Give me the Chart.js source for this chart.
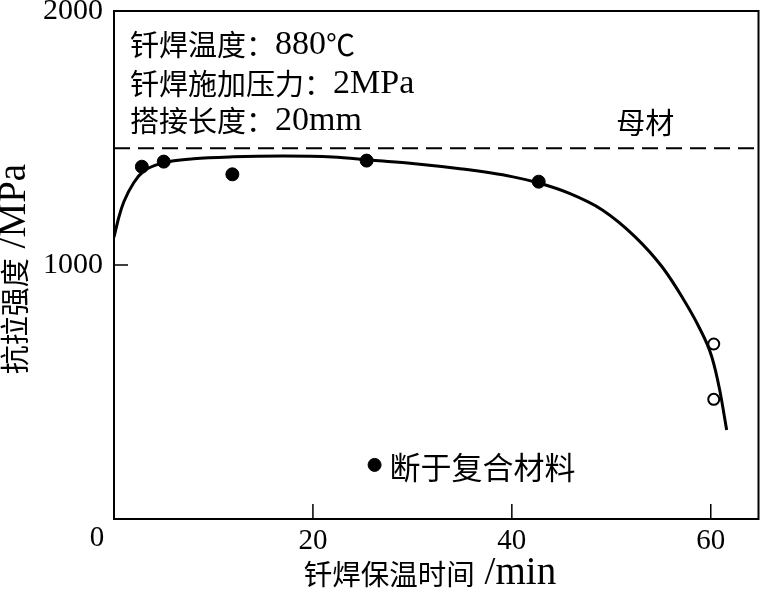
<!DOCTYPE html>
<html>
<head>
<meta charset="utf-8">
<script src="https://cdn.jsdelivr.net/npm/chart.js@4.4.1/dist/chart.umd.min.js"></script>
<style>
  body { margin: 0; background: #fff; }
  #wrap { width: 766px; height: 595px; position: relative; }
</style>
</head>
<body>
<div id="wrap"><canvas id="chart"></canvas></div>
<script>
// fitted curve
const curveX = [0, 0.5, 1, 2, 3, 5, 8, 12, 17, 22, 26, 30, 35, 40, 42.8, 45.8, 49.1, 52.4, 55.1, 57.1, 58.8, 60.1, 60.9, 61.6];
const curveY = [1110, 1190, 1250, 1325, 1370, 1402, 1418, 1426, 1429, 1425, 1412, 1400, 1378, 1348, 1322, 1282, 1217, 1111, 993, 875, 757, 639, 508, 350];

// filled dots: broken in the composite
const solidX = [2.8, 5.0, 11.9, 25.4, 42.7];
const solidY = [1387, 1407, 1357, 1411, 1328];

// open circles
const openX = [60.3, 60.3];
const openY = [689, 471];

// base metal strength
const baseMetal = 1460;

const xTicks = [20, 40, 60];
const yTicks = [1000, 2000];

const legendX = 26.2, legendY = 213;

const serif = "'Liberation Serif', 'Noto Sans CJK SC', serif";
const cjk = "'Noto Sans CJK SC', sans-serif";

function pts(xs, ys) {
    return xs.map((x, i) => ({x: x, y: ys[i]}));
}

// draw text with CJK and latin runs at their own sizes
function mixed(ctx, text, x, y, cjkSize, latSize, align) {
    let re = /[\u2100-\u214f\u3000-\u9fff\uff00-\uffef]/;
    let runs = text.match(/[\u2100-\u214f\u3000-\u9fff\uff00-\uffef]+|[^\u2100-\u214f\u3000-\u9fff\uff00-\uffef]+/g);
    let fonts = runs.map(r => re.test(r) ? cjkSize + 'px ' + cjk : latSize + 'px ' + serif);
    let total = 0;
    runs.forEach((r, i) => { ctx.font = fonts[i]; total += ctx.measureText(r).width; });
    let px = align === 'center' ? x - total / 2 : x;
    ctx.textAlign = 'left';
    ctx.textBaseline = 'middle';
    runs.forEach((r, i) => {
        ctx.font = fonts[i];
        ctx.fillText(r, px, y);
        px += ctx.measureText(r).width;
    });
}

let decor = {
    id: 'decor',
    afterDraw: (chart) => {
        let ctx = chart.ctx;
        let a = chart.chartArea;
        let xs = chart.scales.x, ys = chart.scales.y;
        ctx.save();
        ctx.strokeStyle = '#000';
        ctx.lineWidth = 2;
        ctx.strokeRect(a.left, a.top, a.right - a.left, a.bottom - a.top);

        // inward ticks
        ctx.beginPath();
        xTicks.forEach(v => {
            let px = xs.getPixelForValue(v);
            ctx.moveTo(px, a.bottom);
            ctx.lineTo(px, a.bottom - 15);
        });
        ctx.moveTo(a.left, ys.getPixelForValue(1000));
        ctx.lineTo(a.left + 14, ys.getPixelForValue(1000));
        ctx.lineWidth = 1.5;
        ctx.stroke();

        ctx.fillStyle = '#000';
        mixed(ctx, '钎焊温度：880℃', a.left + 16, 45, 29, 34, 'left');
        mixed(ctx, '钎焊施加压力：2MPa', a.left + 16, 84, 29, 34, 'left');
        mixed(ctx, '搭接长度：20mm', a.left + 16, 121, 29, 34, 'left');

        mixed(ctx, '母材', xs.getPixelForValue(50.5), ys.getPixelForValue(1560), 29, 29, 'left');
        mixed(ctx, '断于复合材料', xs.getPixelForValue(legendX) + 15, ys.getPixelForValue(legendY) + 2, 31, 31, 'left');

        ctx.font = '29px ' + serif;
        ctx.textAlign = 'center';
        ctx.fillText('0', xs.getPixelForValue(0) - 17, 538);

        mixed(ctx, '钎焊保温时间 /min', 430, 574, 28.5, 39, 'center');
        ctx.translate(15, 269);
        ctx.rotate(-Math.PI / 2);
        mixed(ctx, '抗拉强度 /MPa', 0, 0, 29, 39, 'center');
        ctx.restore();
    }
};

let config = {
    type: 'scatter',
    data: {
        datasets: [{
            label: 'curve',
            data: pts(curveX, curveY),
            showLine: true,
            borderColor: '#000',
            borderWidth: 3,
            pointRadius: 0,
            cubicInterpolationMode: 'monotone',
        }, {
            label: 'base',
            data: [{x: 0, y: baseMetal}, {x: 64.8, y: baseMetal}],
            showLine: true,
            borderColor: '#000',
            borderWidth: 2,
            borderDash: [16, 8],
            pointRadius: 0,
        }, {
            label: 'solid',
            data: pts(solidX, solidY),
            pointRadius: 6.5,
            backgroundColor: '#000',
            borderColor: '#000',
        }, {
            label: 'open',
            data: pts(openX, openY),
            pointRadius: 5.5,
            borderWidth: 2,
            backgroundColor: '#fff',
            borderColor: '#000',
        }, {
            label: 'legend',
            data: [{x: legendX, y: legendY}],
            pointRadius: 6.5,
            backgroundColor: '#000',
            borderColor: '#000',
        }]
    },
    options: {
        responsive: true,
        maintainAspectRatio: false,
        animation: false,
        layout: {padding: {top: 11, right: 2, left: 0, bottom: 0}},
        plugins: {legend: {display: false}, tooltip: {enabled: false}},
        scales: {
            x: {
                type: 'linear',
                min: 0,
                max: 64.8,
                grid: {display: false, drawTicks: false},
                border: {display: false},
                afterBuildTicks: (s) => { s.ticks = xTicks.map(v => ({value: v})); },
                afterFit: (s) => { s.height = 76; s.paddingLeft = 0; s.paddingRight = 0; },
                ticks: {
                    padding: 5,
                    autoSkip: false,
                    color: '#000',
                    font: {family: serif, size: 29},
                    maxRotation: 0,
                    callback: (v) => String(v),
                },
            },
            y: {
                min: 0,
                max: 2000,
                grid: {display: false, drawTicks: false},
                border: {display: false},
                afterBuildTicks: (s) => { s.ticks = yTicks.map(v => ({value: v})); },
                afterFit: (s) => { s.width = 114; s.paddingTop = 0; s.paddingBottom = 0; },
                ticks: {
                    padding: 11,
                    autoSkip: false,
                    color: '#000',
                    font: {family: serif, size: 30},
                    callback: (v) => String(v),
                },
            }
        }
    },
    plugins: [decor]
};

new Chart(document.getElementById('chart').getContext('2d'), config);
</script>
</body>
</html>
